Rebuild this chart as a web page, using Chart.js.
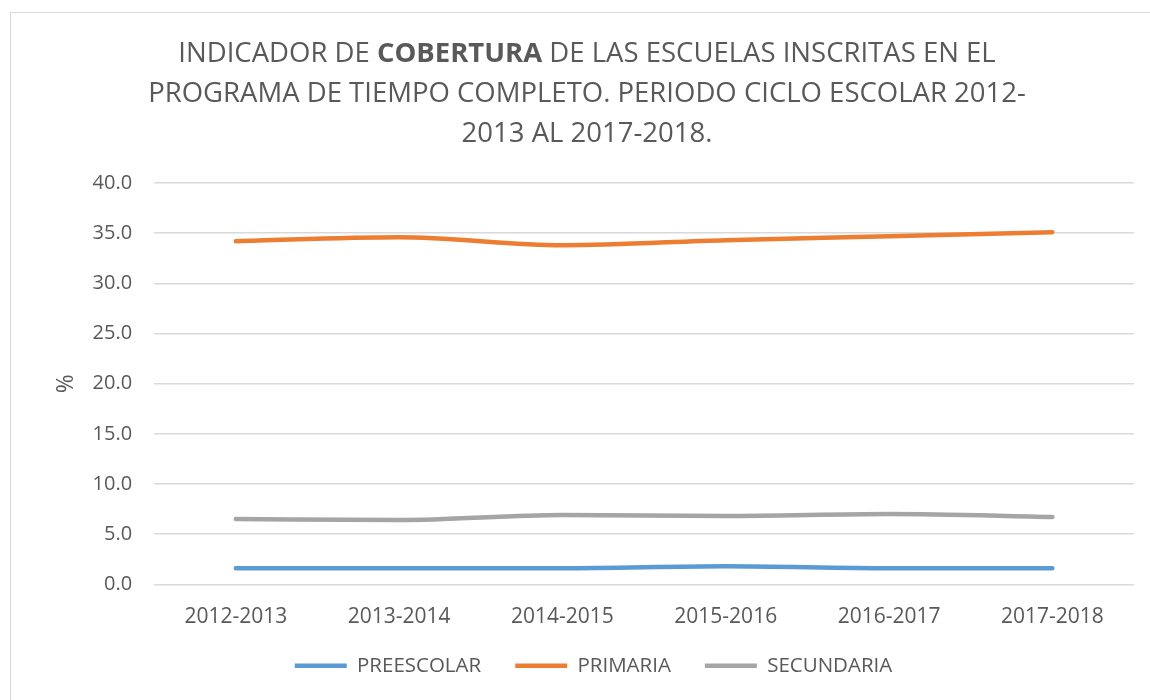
<!DOCTYPE html>
<html>
<head>
<meta charset="utf-8">
<script src="https://cdn.jsdelivr.net/npm/chart.js@4/dist/chart.umd.min.js"></script>
<style>
  html, body { margin: 0; padding: 0; background: #fff; }
  #wrap { position: relative; width: 1150px; height: 700px; overflow: hidden; }
  #frame { position: absolute; left: 10px; top: 12px; width: 1200px; height: 760px; border: 1px solid #d9d9d9; }
  #title {
    position: absolute; left: 0; top: 32px; width: 1174px; text-align: center;
    font-family: 'Open Sans', sans-serif; font-size: 27.5px; line-height: 40px; color: #595959;
  }
  #title b { font-weight: 700; }
  #chart { position: absolute; left: 0; top: 0; }
</style>
</head>
<body>
<div id="wrap">
  <div id="frame"></div>
  <canvas id="chart" width="1150" height="700"></canvas>
  <div id="title">INDICADOR DE <b>COBERTURA</b> DE LAS ESCUELAS INSCRITAS EN EL<br>PROGRAMA DE TIEMPO COMPLETO. PERIODO CICLO ESCOLAR 2012-<br>2013 AL 2017-2018.</div>
</div>
<script>
// ===================== Data =====================
const ciclos = ['2012-2013', '2013-2014', '2014-2015', '2015-2016', '2016-2017', '2017-2018'];
const preescolar = [1.6, 1.6, 1.6, 1.8, 1.6, 1.6];
const primaria = [34.2, 34.6, 33.8, 34.3, 34.7, 35.1];
const secundaria = [6.5, 6.4, 6.9, 6.8, 7.0, 6.7];
const yTicks = [0, 5, 10, 15, 20, 25, 30, 35, 40];

// ===================== Chart =====================
(function () {
  const canvas = document.getElementById('chart');
  const txt = '#595959';
  const font = "'Open Sans', sans-serif";

  function serie(label, data, color) {
    return {
      label: label,
      data: data,
      borderColor: color,
      backgroundColor: color,
      borderWidth: 4.5,
      borderCapStyle: 'round',
      borderJoinStyle: 'round',
      pointRadius: 0,
      pointStyle: 'line',
      cubicInterpolationMode: 'monotone',
      fill: false
    };
  }

  // legend sits a bit closer to the axis labels than Chart.js puts it
  const legendUp = {
    id: 'legendUp',
    afterLayout: function (chart) {
      chart.legend.top -= 20;
      chart.legend.bottom -= 20;
    }
  };

  new Chart(canvas, {
    type: 'line',
    data: {
      labels: ciclos,
      datasets: [
        serie('PREESCOLAR', preescolar, '#5b9bd5'),
        serie('PRIMARIA', primaria, '#ed7d31'),
        serie('SECUNDARIA', secundaria, '#a5a5a5')
      ]
    },
    plugins: [legendUp],
    options: {
      responsive: false,
      animation: false,
      layout: { padding: { top: 183, left: 53, right: 16, bottom: -6 } },
      plugins: {
        title: { display: false },
        tooltip: { enabled: false },
        legend: {
          position: 'bottom',
          labels: {
            usePointStyle: true,
            pointStyleWidth: 52,
            boxHeight: 20,
            padding: 34,
            color: txt,
            font: { family: font, size: 20.5 }
          }
        }
      },
      scales: {
        x: {
          offset: true,
          grid: { display: false },
          border: { display: false },
          ticks: { color: txt, padding: 12, font: { family: font, size: 21 } }
        },
        y: {
          min: 0,
          max: 40,
          afterBuildTicks: function (axis) {
            axis.ticks = yTicks.map(function (v) { return { value: v }; });
          },
          grid: { color: '#d9d9d9', lineWidth: 1.5, drawTicks: false },
          border: { display: false },
          ticks: {
            color: txt,
            padding: 22,
            font: { family: font, size: 20 },
            callback: function (v) { return v.toFixed(1); }
          },
          title: {
            display: true,
            text: '%',
            color: txt,
            padding: { top: 0, bottom: -10 },
            font: { family: font, size: 23 }
          }
        }
      }
    }
  });
})();
</script>
</body>
</html>
